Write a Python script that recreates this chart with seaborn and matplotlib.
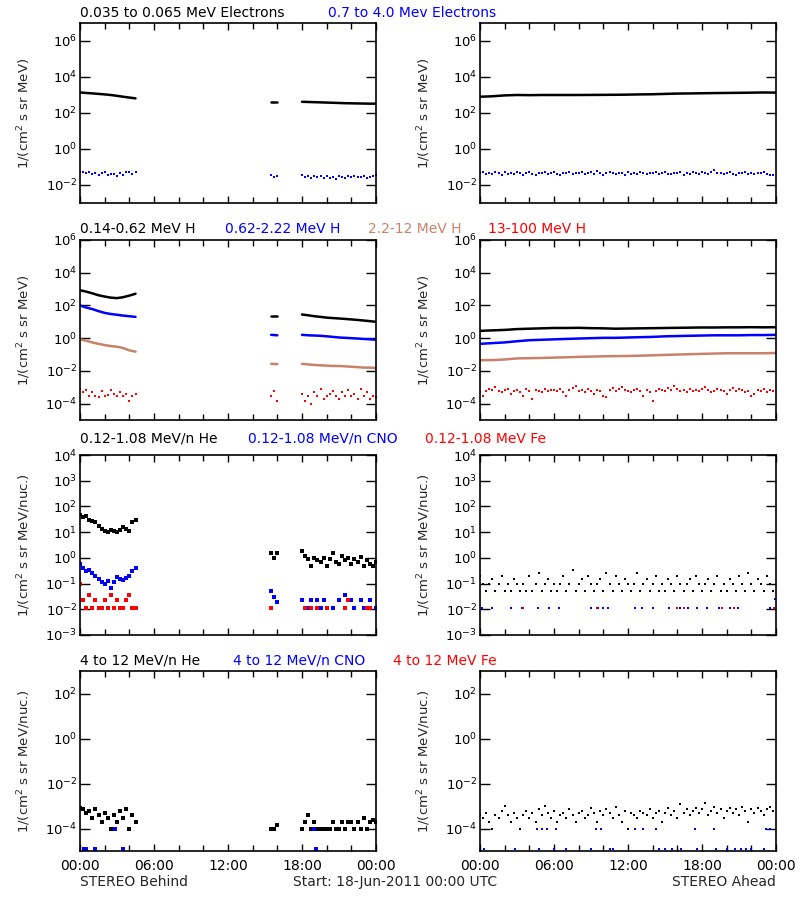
import numpy as np
import pandas as pd
import matplotlib
matplotlib.use("Agg")
import matplotlib.pyplot as plt
import matplotlib.ticker as mticker
import seaborn as sns

nan = np.nan

BLK = "black"
BLU = "#0000ff"
BRN = "#c8826a"
RED = "#ff0000"

# sample times, hours after 18-Jun-2011 00:00 UTC
b_line_t = [0, 0.5, 1, 1.5, 2, 2.5, 3, 3.5, 4, 4.5,
            15.5, 16,
            18, 18.5, 19, 19.5, 20, 20.5, 21, 21.5, 22, 22.5, 23, 23.5, 24]
b_line_seg = [0] * 10 + [1] * 2 + [2] * 13
b_dot_t = np.concatenate([np.arange(0, 4.6, 0.25), [15.5, 15.75, 16.0], np.arange(18, 24.01, 0.25)])
a_line_t = np.arange(0, 25, 1.0)
a_dot_t = np.arange(0, 24, 0.25)

# ---- STEREO Behind ----
b_e_lo = [1380, 1300, 1230, 1150, 1080, 1000, 900, 800, 720, 650,
          390, 390,
          420, 410, 400, 390, 380, 370, 360, 350, 345, 340, 335, 330, 330]
b_e_hi = [0.055, 0.05, 0.045, 0.052, 0.04, 0.048, 0.038, 0.045, 0.05, 0.035,
          0.043, 0.04, 0.03, 0.047, 0.038, 0.05, 0.055, 0.042, 0.05,
          0.035, 0.028, 0.032,
          0.035, 0.028, 0.032, 0.025, 0.03, 0.027, 0.033, 0.024, 0.03, 0.026,
          0.028, 0.022, 0.03, 0.027, 0.024, 0.031, 0.028, 0.032, 0.029, 0.027,
          0.03, 0.024, 0.028, 0.033, 0.036]

b_h1 = [850, 700, 550, 420, 350, 300, 280, 320, 400, 520,
        22, 22,
        28, 25, 22, 20, 18, 17, 16, 15, 14, 13, 12, 11, 10]
b_h2 = [100, 75, 60, 45, 35, 30, 27, 24, 22, 20,
        1.6, 1.5,
        1.6, 1.5, 1.45, 1.4, 1.3, 1.2, 1.1, 1.05, 1.0, 0.95, 0.9, 0.85, 0.8]
b_h3 = [0.85, 0.7, 0.55, 0.45, 0.38, 0.33, 0.3, 0.25, 0.18, 0.15,
        0.027, 0.026,
        0.027, 0.025, 0.023, 0.022, 0.021, 0.02, 0.02, 0.019, 0.018, 0.017, 0.016, 0.016, 0.015]
b_h4 = [8e-4, 5e-4, 7e-4, 3e-4, 5e-4, 3e-4, 2.5e-4, 6e-4, 3e-4, 3.5e-4,
        7e-4, 4e-4, 3e-4, 5e-4, 3e-4, 4e-4, 1.5e-4, 3e-4, 4e-4,
        3e-4, 6e-4, 1.5e-4,
        4e-4, 1.5e-4, 3e-4, 1e-4, 5e-4, 3e-4, 8e-4, 2e-4, 3e-4, 4e-4,
        6e-4, 3e-4, 2e-4, 5e-4, 3e-4, 7e-4, 3e-4, 4e-4, 2e-4, 8e-4,
        3e-4, 5e-4, 2e-4, 3e-4, 2.5e-4]

b_he_lo = [45, 38, 42, 30, 28, 24, 17, 13, 11, 10,
           12, 11, 10, 12, 16, 13, 11, 25, 30,
           1.5, 1.0, 1.5,
           1.8, 1.2, 0.9, 0.5, 1.0, 0.8, 0.7, 1.0, 0.5, 0.9,
           1.5, 0.7, 0.6, 1.2, 0.8, 1.0, 0.6, 0.9, 0.7, 1.1,
           0.5, 0.8, 0.6, 0.5, 0.7]
b_cno_lo = [0.6, 0.4, 0.3, 0.35, 0.25, 0.2, 0.15, 0.12, 0.1, 0.13,
            0.07, 0.12, 0.18, 0.15, 0.14, 0.16, 0.2, 0.3, 0.4,
            0.05, 0.03, 0.02,
            0.022, nan, 0.011, 0.022, nan, 0.022, 0.011, 0.022, nan, nan,
            0.011, nan, 0.022, nan, 0.035, nan, 0.022, 0.011, nan, 0.022,
            0.011, 0.011, 0.022, nan, 0.011]
b_fe_lo = [0.1, 0.022, 0.011, 0.035, 0.011, 0.022, 0.011, 0.011, 0.022, 0.011,
           0.035, 0.011, 0.022, 0.011, 0.011, 0.022, 0.035, 0.011, 0.011,
           0.011, nan, nan,
           nan, 0.011, nan, 0.011, nan, 0.011, nan, nan, 0.011, nan,
           nan, nan, nan, nan, 0.011, 0.022, nan, nan, nan, nan,
           nan, 0.011, 0.011, nan, nan]

b_he_hi = [8e-4, 7e-4, 5e-4, 6e-4, 3e-4, 7e-4, 4e-4, 2e-4, 5e-4, 3e-4,
           1e-4, 4e-4, 2e-4, 6e-4, 3e-4, 7e-4, 1e-4, 4e-4, 2e-4,
           1e-4, 1e-4, 1.5e-4,
           1e-4, 2e-4, 4e-4, 1e-4, 2e-4, 1e-4, 1e-4, 1e-4, 1e-4, 1e-4,
           2e-4, 1e-4, 1e-4, 2e-4, 1e-4, 2e-4, 2e-4, 1e-4, 2e-4, 1e-4,
           3e-4, 1e-4, 2e-4, 2.5e-4, 2e-4]
b_cno_hi_t = [0.3, 0.5, 1.2, 2.8, 3.5, 19.0, 19.1]
b_cno_hi = [1.2e-5, 1.2e-5, 1.2e-5, 1e-4, 1.2e-5, 1e-4, 1.2e-5]

# ---- STEREO Ahead ----
a_e_lo = [800, 850, 950, 1000, 980, 1000, 1000, 1000, 1000, 1010, 1020, 1030, 1050,
          1080, 1100, 1150, 1200, 1220, 1250, 1280, 1300, 1320, 1350, 1380, 1350]
a_e_hi = [0.045, 0.05, 0.042, 0.048, 0.04, 0.052, 0.045, 0.038, 0.05, 0.043,
          0.047, 0.04, 0.055, 0.045, 0.038, 0.046, 0.05, 0.042, 0.036, 0.048,
          0.044, 0.05, 0.04, 0.046, 0.052, 0.043, 0.038, 0.047, 0.045, 0.05,
          0.041, 0.048, 0.044, 0.055, 0.04, 0.046, 0.05, 0.043, 0.06, 0.045,
          0.038, 0.047, 0.052, 0.044, 0.04, 0.049, 0.045, 0.035, 0.05, 0.043,
          0.047, 0.041, 0.052, 0.045, 0.039, 0.048, 0.044, 0.05, 0.042, 0.046,
          0.055, 0.043, 0.04, 0.048, 0.045, 0.051, 0.038, 0.046, 0.043, 0.05,
          0.045, 0.041, 0.053, 0.047, 0.042, 0.05, 0.065, 0.048, 0.044, 0.04,
          0.047, 0.052, 0.043, 0.038, 0.049, 0.045, 0.05, 0.042, 0.046, 0.04,
          0.048, 0.044, 0.05, 0.042, 0.038, 0.035]

a_h1 = [2.8, 3.0, 3.2, 3.6, 3.8, 4.0, 4.2, 4.2, 4.3, 4.1, 4.0, 3.8, 3.9,
        4.0, 4.1, 4.2, 4.3, 4.4, 4.5, 4.5, 4.6, 4.6, 4.7, 4.6, 4.7]
a_h2 = [0.45, 0.5, 0.55, 0.65, 0.75, 0.8, 0.85, 0.9, 0.95, 1.0, 1.05, 1.05, 1.1,
        1.15, 1.2, 1.3, 1.35, 1.4, 1.45, 1.5, 1.5, 1.5, 1.55, 1.55, 1.6]
a_h3 = [0.045, 0.046, 0.05, 0.058, 0.06, 0.062, 0.065, 0.068, 0.072, 0.075, 0.078, 0.08, 0.082,
        0.085, 0.09, 0.095, 0.1, 0.105, 0.11, 0.115, 0.12, 0.12, 0.12, 0.12, 0.125]
a_h4 = [5e-4, 3e-4, 6e-4, 8e-4, 7e-4, 1e-3, 6e-4, 5e-4, 7e-4, 8e-4,
        4e-4, 6e-4, 7e-4, 5e-4, 3e-4, 8e-4, 6e-4, 2e-4, 7e-4, 6e-4,
        5e-4, 8e-4, 6e-4, 7e-4, 7e-4, 6e-4, 8e-4, 5e-4, 3e-4, 7e-4,
        9e-4, 1.2e-3, 6e-4, 7e-4, 5e-4, 8e-4, 6e-4, 4e-4, 7e-4, 6e-4,
        3e-4, 2.5e-4, 7e-4, 9e-4, 6e-4, 8e-4, 1.1e-3, 7e-4, 6e-4, 5e-4,
        7e-4, 8e-4, 6e-4, 3e-4, 7e-4, 5e-4, 1.5e-4, 6e-4, 8e-4, 7e-4,
        6e-4, 9e-4, 7e-4, 1.2e-3, 8e-4, 6e-4, 7e-4, 5e-4, 8e-4, 6e-4,
        7e-4, 6e-4, 8e-4, 1e-3, 7e-4, 5e-4, 6e-4, 8e-4, 7e-4, 6e-4,
        4e-4, 7e-4, 9e-4, 6e-4, 8e-4, 7e-4, 5e-4, 6e-4, 3e-4, 4e-4,
        7e-4, 6e-4, 8e-4, 5e-4, 7e-4, 6e-4]

a_he_lo = [0.2, 0.1, 0.05, 0.1, 0.15, 0.05, 0.1, 0.2, 0.05, 0.1,
           0.05, 0.15, 0.1, 0.05, 0.1, 0.05, 0.2, 0.05, 0.1, 0.25,
           0.05, 0.1, 0.15, 0.05, 0.1, 0.05, 0.1, 0.2, 0.05, 0.1,
           0.35, 0.05, 0.1, 0.15, 0.05, 0.2, 0.1, 0.05, 0.1, 0.15,
           0.05, 0.25, 0.1, 0.05, 0.2, 0.1, 0.05, 0.15, 0.1, 0.05,
           0.1, 0.25, 0.05, 0.1, 0.15, 0.05, 0.1, 0.2, 0.05, 0.1,
           0.05, 0.15, 0.1, 0.05, 0.2, 0.1, 0.05, 0.1, 0.15, 0.05,
           0.2, 0.1, 0.05, 0.1, 0.15, 0.05, 0.1, 0.2, 0.05, 0.1,
           0.05, 0.15, 0.1, 0.05, 0.2, 0.1, 0.05, 0.25, 0.1, 0.05,
           0.15, 0.1, 0.05, 0.2, 0.1, 0.05]
a_cno_lo_t = [0.2, 1.0, 2.5, 3.4, 4.7, 5.6, 6.4, 9.0, 9.6, 10.0, 10.4, 12.6,
              13.1, 14.0, 15.3, 16.2, 16.9, 17.6, 18.4, 19.4, 20.3, 20.9, 23.5, 23.9]
a_cno_lo = [0.011] * 23 + [0.025]
a_fe_lo_t = [3.5, 9.5, 16.0, 16.5, 19.6, 20.6, 23.8]
a_fe_lo = [0.011] * 7

a_he_hi = [4e-4, 3e-4, 5e-4, 2e-4, 1e-4, 4e-4, 3e-4, 6e-4, 1e-3, 4e-4,
           2e-4, 5e-4, 3e-4, 1e-4, 4e-4, 6e-4, 3e-4, 5e-4, 2e-4, 7e-4,
           4e-4, 1e-3, 5e-4, 3e-4, 6e-4, 2e-4, 4e-4, 5e-4, 3e-4, 7e-4,
           4e-4, 2e-4, 5e-4, 6e-4, 3e-4, 4e-4, 8e-4, 5e-4, 2e-4, 6e-4,
           4e-4, 7e-4, 5e-4, 3e-4, 9e-4, 4e-4, 2e-4, 6e-4, 1e-4, 5e-4,
           4e-4, 3e-4, 6e-4, 5e-4, 4e-4, 7e-4, 3e-4, 5e-4, 6e-4, 2e-4,
           5e-4, 8e-4, 4e-4, 6e-4, 3e-4, 1.2e-3, 5e-4, 7e-4, 4e-4, 6e-4,
           8e-4, 5e-4, 7e-4, 1.3e-3, 4e-4, 6e-4, 9e-4, 5e-4, 7e-4, 3e-4,
           6e-4, 8e-4, 5e-4, 7e-4, 4e-4, 9e-4, 6e-4, 2e-4, 7e-4, 5e-4,
           8e-4, 6e-4, 4e-4, 7e-4, 9e-4, 6e-4]
a_cno_hi_t = [4.6, 5.0, 5.4, 6.2, 9.4, 9.8, 12.6, 13.2, 14.3, 17.4, 19.0, 23.2, 23.5,
              0.3, 2.8, 4.8, 6.0, 7.0, 9.0, 10.5, 10.8, 14.5, 15.0, 15.6, 16.3,
              17.6, 19.1, 20.0, 20.7, 21.2, 21.6, 22.0, 23.0]
a_cno_hi = [1e-4] * 13 + [1.2e-5] * 20

# row titles: (text, colour, x pixel)
row_titles = [
    [("0.035 to 0.065 MeV Electrons", BLK, 80), ("0.7 to 4.0 Mev Electrons", BLU, 328)],
    [("0.14-0.62 MeV H", BLK, 80), ("0.62-2.22 MeV H", BLU, 225),
     ("2.2-12 MeV H", BRN, 368), ("13-100 MeV H", RED, 488)],
    [("0.12-1.08 MeV/n He", BLK, 80), ("0.12-1.08 MeV/n CNO", BLU, 248),
     ("0.12-1.08 MeV Fe", RED, 425)],
    [("4 to 12 MeV/n He", BLK, 80), ("4 to 12 MeV/n CNO", BLU, 233),
     ("4 to 12 MeV Fe", RED, 393)],
]
row_ylim = [(1e-3, 1e7), (1e-5, 1e6), (1e-3, 1e4), (1e-5, 1e3)]
row_yticks = [[1e-2, 1e0, 1e2, 1e4, 1e6],
              [1e-4, 1e-2, 1e0, 1e2, 1e4, 1e6],
              [1e-3, 1e-2, 1e-1, 1e0, 1e1, 1e2, 1e3, 1e4],
              [1e-4, 1e-2, 1e0, 1e2]]
row_ylabel = ["1/(cm$^2$ s sr MeV)", "1/(cm$^2$ s sr MeV)",
              "1/(cm$^2$ s sr MeV/nuc.)", "1/(cm$^2$ s sr MeV/nuc.)"]
row_top_px = [23, 240, 455, 671]
title_px = [13, 229, 439, 661]
hour_labels = ["00:00", "06:00", "12:00", "18:00", "00:00"]


def draw_line(ax, t, seg, vals, color):
    df = pd.DataFrame({"t": t, "v": vals, "seg": seg}).dropna()
    sns.lineplot(data=df, x="t", y="v", units="seg", estimator=None,
                 color=color, lw=1.8, ax=ax, legend=False)


def draw_dots(ax, t, vals, color, size=4.5):
    df = pd.DataFrame({"t": t, "v": vals}).dropna()
    sns.scatterplot(data=df, x="t", y="v", color=color, marker="s", s=size,
                    linewidth=0, ax=ax, legend=False)


sns.set_style("ticks")
plt.rcParams["font.family"] = ["DejaVu Sans"]
plt.rcParams["mathtext.default"] = "regular"

fig = plt.figure(figsize=(8, 9), dpi=100)
axes = []
for r in range(4):
    row = []
    for c, left in enumerate([80, 480]):
        ax = fig.add_axes([left / 800, 1 - (row_top_px[r] + 180) / 900, 296 / 800, 180 / 900])
        ax.set_yscale("log")
        row.append(ax)
    axes.append(row)

# Behind
ax = axes[0][0]
draw_line(ax, b_line_t, b_line_seg, b_e_lo, BLK)
draw_dots(ax, b_dot_t, b_e_hi, BLU)
ax = axes[1][0]
draw_line(ax, b_line_t, b_line_seg, b_h1, BLK)
draw_line(ax, b_line_t, b_line_seg, b_h2, BLU)
draw_line(ax, b_line_t, b_line_seg, b_h3, BRN)
draw_dots(ax, b_dot_t, b_h4, RED)
ax = axes[2][0]
draw_dots(ax, b_dot_t, b_he_lo, BLK, 5)
draw_dots(ax, b_dot_t, b_cno_lo, BLU, 5)
draw_dots(ax, b_dot_t, b_fe_lo, RED, 5)
ax = axes[3][0]
draw_dots(ax, b_dot_t, b_he_hi, BLK, 5)
draw_dots(ax, b_cno_hi_t, b_cno_hi, BLU, 5)

# Ahead
ax = axes[0][1]
draw_line(ax, a_line_t, [0] * len(a_line_t), a_e_lo, BLK)
draw_dots(ax, a_dot_t, a_e_hi, BLU)
ax = axes[1][1]
draw_line(ax, a_line_t, [0] * len(a_line_t), a_h1, BLK)
draw_line(ax, a_line_t, [0] * len(a_line_t), a_h2, BLU)
draw_line(ax, a_line_t, [0] * len(a_line_t), a_h3, BRN)
draw_dots(ax, a_dot_t, a_h4, RED)
ax = axes[2][1]
draw_dots(ax, a_dot_t, a_he_lo, BLK)
draw_dots(ax, a_cno_lo_t, a_cno_lo, BLU)
draw_dots(ax, a_fe_lo_t, a_fe_lo, RED)
ax = axes[3][1]
draw_dots(ax, a_dot_t, a_he_hi, BLK)
draw_dots(ax, a_cno_hi_t, a_cno_hi, BLU)

for r in range(4):
    for c in range(2):
        ax = axes[r][c]
        ax.set_xlim(0, 24)
        ax.set_ylim(*row_ylim[r])
        ax.yaxis.set_major_locator(mticker.FixedLocator(row_yticks[r]))
        ax.yaxis.set_major_formatter(mticker.LogFormatterMathtext())
        ax.yaxis.set_minor_locator(mticker.NullLocator())
        ax.xaxis.set_major_locator(mticker.FixedLocator([0, 6, 12, 18, 24]))
        ax.xaxis.set_minor_locator(mticker.MultipleLocator(2))
        ax.tick_params(axis="both", which="both", direction="in", top=True, right=True,
                       colors="black", labelsize=10, width=1)
        ax.tick_params(axis="y", which="major", length=7, pad=2, labelsize=9.5)
        ax.tick_params(axis="x", which="major", length=5, pad=6)
        ax.tick_params(axis="x", which="minor", length=4)
        if r == 3:
            ax.set_xticklabels(hour_labels)
        else:
            ax.set_xticklabels([])
        ax.set_xlabel("")
        ax.set_ylabel(row_ylabel[r], fontsize=9.5)
        ax.yaxis.set_label_coords(-0.16, 0.5)
        for sp in ax.spines.values():
            sp.set_linewidth(1.2)
            sp.set_color("black")

for r, parts in enumerate(row_titles):
    for text, color, xpx in parts:
        fig.text(xpx / 800, 1 - title_px[r] / 900, text, color=color,
                 fontsize=10, ha="left", va="center")

fig.text(80 / 800, 1 - 882 / 900, "STEREO Behind", fontsize=10, va="center")
fig.text(293 / 800, 1 - 882 / 900, "Start: 18-Jun-2011 00:00 UTC", fontsize=10, va="center")
fig.text(776 / 800, 1 - 882 / 900, "STEREO Ahead", fontsize=10, va="center", ha="right")

fig.savefig("out.png", dpi=100, facecolor="white")
